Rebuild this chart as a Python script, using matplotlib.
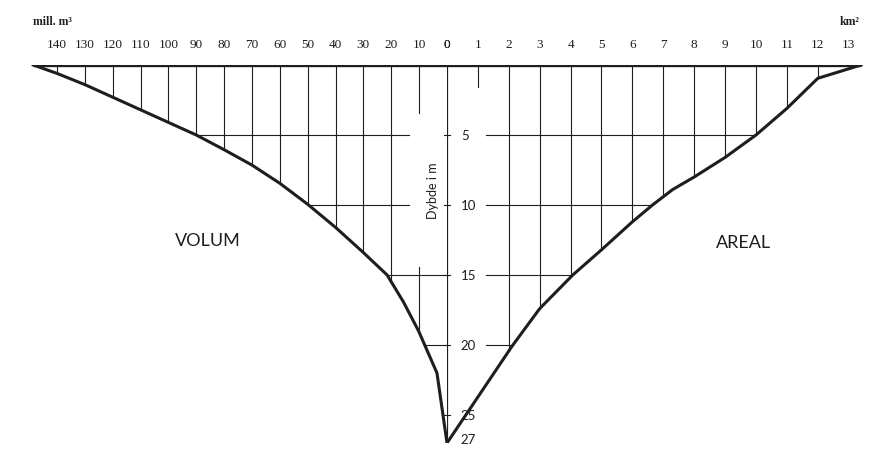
import numpy as np
import matplotlib.pyplot as plt

# volume curve (mill. m3) against depth (m)
vol_depth = [0, 0.6, 1.4, 2.3, 3.2, 4.1, 5.0, 6.05, 7.15, 8.45, 9.95, 11.6, 13.4, 15, 16.9, 19.0, 20, 22, 27]
volume = [148.5, 140, 130, 120, 110, 100, 90, 80, 70, 60, 50, 40, 30, 21.5, 15.7, 10.2, 8.0, 3.6, 0]

# area curve (km2) against depth (m)
area_depth = [0, 0.95, 3.1, 5.0, 6.6, 8.0, 8.9, 10, 11.2, 13.2, 15, 17.4, 20.1, 27]
area = [13.4, 12.0, 11.0, 10.0, 9.0, 8.0, 7.3, 6.65, 6.0, 5.0, 4.07, 3.0, 2.1, 0]

vol_ticks = list(range(0, 150, 10))
area_ticks = list(range(0, 14))
depth_ticks = [5, 10, 15, 20, 25]

ink = "#1e1e1e"
num_font = "Liberation Serif"
txt_font = "Lato"

W, H = 877, 454
fig = plt.figure(figsize=(W / 100, H / 100), dpi=100)

y_top, y_bot = 65, 443          # pixel rows of depth 0 and 27
x0 = 447                        # pixel column of the depth axis
px_vol = 2.786                  # px per mill. m3
px_area = 30.9                  # px per km2
vol_max, area_max = 150, 13.5

bottom = (H - y_bot) / H
height = (y_bot - y_top) / H
axv = fig.add_axes([(x0 - vol_max * px_vol) / W, bottom, vol_max * px_vol / W, height])
axa = fig.add_axes([x0 / W, bottom, area_max * px_area / W, height])
axv.set_xlim(vol_max, 0)
axa.set_xlim(0, area_max)
for ax in (axv, axa):
    ax.set_ylim(27, 0)
    ax.axis("off")

# depth where each curve reaches a given value
def vol_to_depth(v):
    return np.interp(v, volume[::-1], vol_depth[::-1])

def area_to_depth(a):
    return np.interp(a, area[::-1], area_depth[::-1])

# vertical grid, volume side
for v in vol_ticks[1:]:
    d = vol_to_depth(v)
    if v == 10:
        axv.plot([v, v], [0, 3.4], color=ink, lw=0.8)
        axv.plot([v, v], [14.4, d], color=ink, lw=0.8)
    else:
        axv.plot([v, v], [0, d], color=ink, lw=0.8)

# vertical grid, area side
for a in area_ticks[1:13]:
    d = area_to_depth(a)
    if a == 1:
        d = 1.6
    axa.plot([a, a], [0, d], color=ink, lw=0.8)

# horizontal grid
for d in depth_ticks[:4]:
    v_end = np.interp(d, vol_depth, volume)
    v_start = 13.6 if d <= 10 else 0
    axv.plot([v_start, v_end], [d, d], color=ink, lw=0.8)
    a_end = np.interp(d, area_depth, area)
    axa.plot([1.25, a_end], [d, d], color=ink, lw=0.8)

# small ticks on the depth axis
for d in depth_ticks:
    axv.plot([0, 1.2], [d, d], color=ink, lw=0.8)
    axa.plot([0, 0.1], [d, d], color=ink, lw=0.8)

# curves
axv.plot(volume, vol_depth, color=ink, lw=2.2, solid_joinstyle="round")
axa.plot(area, area_depth, color=ink, lw=2.2, solid_joinstyle="round")

# surface line and depth axis
axv.plot([volume[0], 0], [0, 0], color=ink, lw=2.4, solid_capstyle="butt")
axa.plot([0, area[0]], [0, 0], color=ink, lw=2.4, solid_capstyle="butt")
axa.plot([0, 0], [0, 27], color=ink, lw=1.6, solid_capstyle="butt")

# tick labels
for v in vol_ticks:
    axv.text(v, -1.45, str(v), ha="center", va="center", fontsize=9.5,
             family=num_font, color=ink)
for a in area_ticks:
    axa.text(a, -1.45, str(a), ha="center", va="center", fontsize=9.5,
             family=num_font, color=ink)
for d in depth_ticks:
    axa.text(0.45, d + 0.05, str(d), ha="left", va="center", fontsize=9.5,
             family=txt_font, color=ink)
axa.text(0.45, 26.8, "27", ha="left", va="center", fontsize=9.5,
         family=txt_font, color=ink)

axv.text(148.5, -3.1, "mill. m³", ha="left", va="center", fontsize=8.5,
         family=num_font, color=ink, fontweight="bold")
axa.text(13.35, -3.1, "km²", ha="right", va="center", fontsize=8.5,
         family=num_font, color=ink, fontweight="bold")

axv.text(5.0, 9.0, "Dybde i m", rotation=90, ha="center", va="center",
         fontsize=9, family=txt_font, color=ink)
axv.text(86, 12.6, "VOLUM", ha="center", va="center", fontsize=13,
         family=txt_font, color=ink)
axa.text(9.6, 12.7, "AREAL", ha="center", va="center", fontsize=13,
         family=txt_font, color=ink)

fig.savefig("out.png", dpi=100)
